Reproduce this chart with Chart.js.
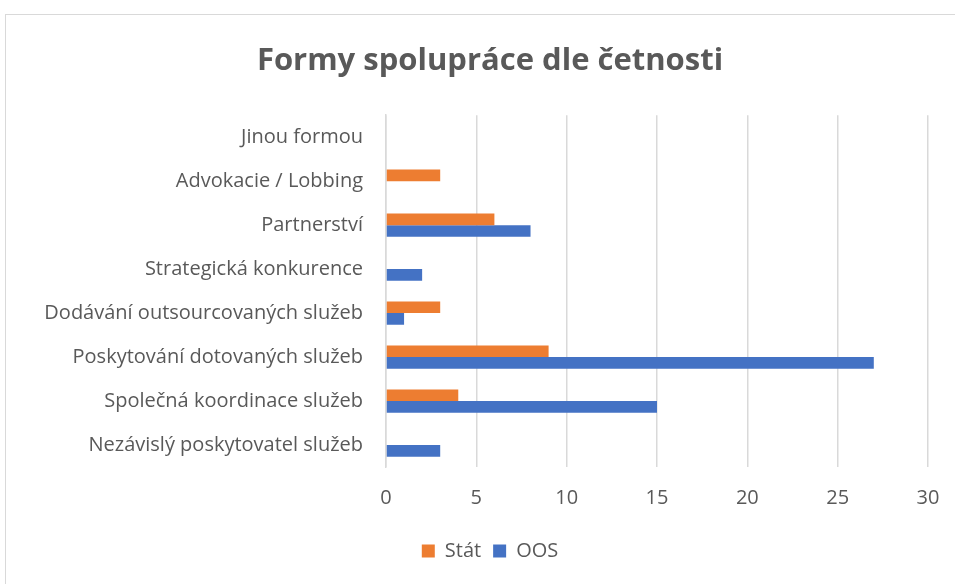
<!DOCTYPE html>
<html>
<head>
<meta charset="utf-8">
<script src="https://cdn.jsdelivr.net/npm/chart.js@4"></script>
<style>
  body { margin: 0; overflow: hidden; background: #fff; }
  #frame { position: absolute; left: 5px; top: 14px; width: 968px; height: 600px; border: 1px solid #d9d9d9; }
</style>
</head>
<body>
<div id="frame"><canvas id="myChart" width="968" height="600"></canvas></div>
<script>
const ctx = document.getElementById('myChart');

const categories = [
  'Jinou formou',
  'Advokacie / Lobbing',
  'Partnerství',
  'Strategická konkurence',
  'Dodávání outsourcovaných služeb',
  'Poskytování dotovaných služeb',
  'Společná koordinace služeb',
  'Nezávislý poskytovatel služeb'
];
const stat = [0, 3, 6, 0, 3, 9, 4, 0];
const oos = [0, 0, 8, 2, 1, 27, 15, 3];
const xTicks = [0, 5, 10, 15, 20, 25, 30];

Chart.defaults.font.family = '"Open Sans", Lato, sans-serif';
Chart.defaults.color = '#595959';

new Chart(ctx, {
  type: 'bar',
  data: {
    labels: categories,
    datasets: [{
      label: 'Stát',
      data: stat,
      backgroundColor: '#ED7D31',
      borderWidth: 0
    }, {
      label: 'OOS',
      data: oos,
      backgroundColor: '#4472C4',
      borderWidth: 0
    }]
  },
  options: {
    indexAxis: 'y',
    responsive: false,
    animation: false,
    categoryPercentage: 0.53,
    barPercentage: 1,
    layout: {
      padding: { left: 20, right: 20, top: 0, bottom: 44 }
    },
    scales: {
      x: {
        min: 0,
        max: 30,
        afterBuildTicks: function(axis) {
          axis.ticks = xTicks.map(v => ({ value: v }));
        },
        grid: { color: '#d9d9d9', lineWidth: 1.5, drawTicks: false },
        border: { display: false },
        ticks: { font: { size: 20, lineHeight: 1.0 }, padding: 21 }
      },
      y: {
        afterFit: function(axis) {
          axis.width = 360;
        },
        grid: { display: false },
        border: { display: true, color: '#d9d9d9', width: 1.5 },
        ticks: { font: { size: 20 }, padding: 15 }
      },
      // empty spacer on the right so title and legend stay centred
      yRight: {
        type: 'category',
        position: 'right',
        afterFit: function(axis) {
          axis.width = 26;
        },
        grid: { display: false },
        border: { display: false },
        ticks: { display: false }
      }
    },
    plugins: {
      title: {
        display: true,
        text: 'Formy spolupráce dle četnosti',
        font: { size: 31, weight: 'bold' },
        color: '#595959',
        padding: { top: 28, bottom: 35 }
      },
      legend: {
        position: 'bottom',
        labels: { boxWidth: 13, boxHeight: 13, font: { size: 20 }, padding: 12 }
      },
      tooltip: { enabled: false }
    }
  }
});
</script>
</body>
</html>
